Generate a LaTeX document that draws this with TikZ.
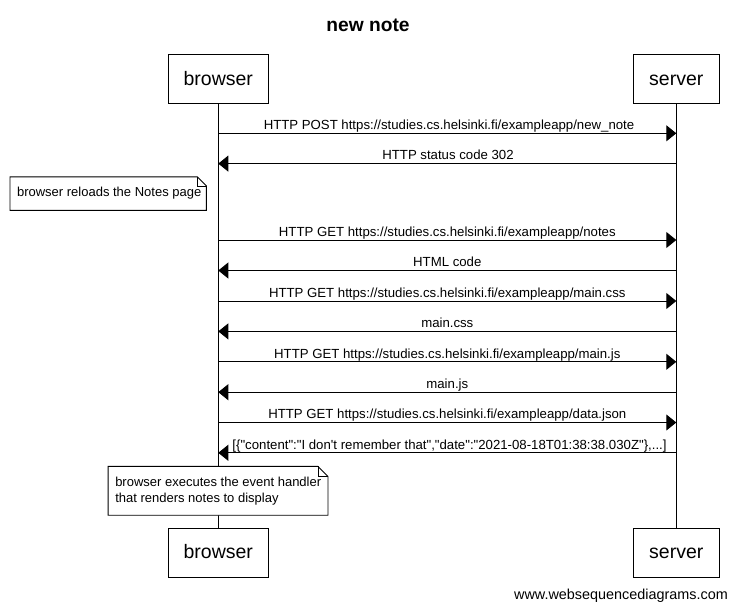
\documentclass[tikz,border=0pt]{standalone}
\usepackage{fontspec}
\setmainfont{Liberation Sans}[Ligatures=TeXOff]
\usetikzlibrary{arrows.meta}
\begin{document}
\begin{tikzpicture}[x=1pt,y=-1pt,
  actor/.style={draw,line width=0.9pt,minimum height=49pt,inner sep=0pt,text height=15.4pt,text depth=3pt,font=\fontsize{19.5}{22}\selectfont},
  life/.style={line width=0.9pt},
  msg/.style={line width=0.9pt,-{Triangle[length=10pt,width=16pt]}},
  lbl/.style={anchor=base,inner sep=0pt,font=\fontsize{13.2}{15}\selectfont},
  notebox/.style={inner sep=0pt,font=\fontsize{13}{16}\selectfont},
  noteline/.style={draw,line width=0.9pt,fill=white}]
\useasboundingbox (0,0) rectangle (734,611);

\node[anchor=base,font=\fontsize{19.2}{22}\bfseries\selectfont] (title) at (368,31) {new note};

\node[actor,minimum width=100pt] (bt) at (218.3,78.8) {browser};
\node[actor,minimum width=86pt] (st) at (676.3,78.8) {server};
\node[actor,minimum width=100pt] (bb) at (218.3,552.5) {browser};
\node[actor,minimum width=86pt] (sb) at (676.3,552.5) {server};

\draw[life] (bt.south) -- (bb.north);
\draw[life] (st.south) -- (sb.north);

% message end points on the lifelines
\foreach \n/\y in {1/133.3,2/163.6,3/240,4/270.5,5/301,6/331.4,7/361.8,8/392.2,9/422.5,10/452.8}{
  \coordinate (b\n) at (218.3,\y);
  \coordinate (s\n) at (676.3,\y);
}

\draw[msg] (b1) -- (s1);
\node[lbl] (l1) at (449,129.5) {HTTP POST https://studies.cs.helsinki.fi/exampleapp/new\_note};
\draw[msg] (s2) -- (b2);
\node[lbl] (l2) at (448,159.8) {HTTP status code 302};
\draw[msg] (b3) -- (s3);
\node[lbl] (l3) at (447.3,236.2) {HTTP GET https://studies.cs.helsinki.fi/exampleapp/notes};
\draw[msg] (s4) -- (b4);
\node[lbl] (l4) at (447.3,266.7) {HTML code};
\draw[msg] (b5) -- (s5);
\node[lbl] (l5) at (447.3,297.2) {HTTP GET https://studies.cs.helsinki.fi/exampleapp/main.css};
\draw[msg] (s6) -- (b6);
\node[lbl] (l6) at (447.3,327.6) {main.css};
\draw[msg] (b7) -- (s7);
\node[lbl] (l7) at (447.3,358) {HTTP GET https://studies.cs.helsinki.fi/exampleapp/main.js};
\draw[msg] (s8) -- (b8);
\node[lbl] (l8) at (447.3,388.4) {main.js};
\draw[msg] (b9) -- (s9);
\node[lbl] (l9) at (447.3,418.7) {HTTP GET https://studies.cs.helsinki.fi/exampleapp/data.json};
\draw[msg] (s10) -- (b10);
\node[lbl] (l10) at (449.5,449) {[\{"content":"I don't remember that","date":"2021-08-18T01:38:38.030Z"\},...]};

% note 1
\node[notebox,minimum width=196pt,minimum height=33pt] (n1) at (108.2,193.6) {};
\draw[noteline] (n1.north west) -- ([xshift=-9pt]n1.north east) -- ([yshift=-9pt]n1.north east) -- (n1.south east) -- (n1.south west) -- cycle;
\draw[line width=0.6pt] ([xshift=-9pt]n1.north east) -- ([xshift=-9pt,yshift=-9pt]n1.north east) -- ([yshift=-9pt]n1.north east);
\node[notebox] (n1t) at ([xshift=1pt]n1.center) {browser reloads the Notes page};

% note 2
\node[notebox,minimum width=219.5pt,minimum height=48.5pt] (n2) at (218,490.8) {};
\draw[noteline] (n2.north west) -- ([xshift=-10pt]n2.north east) -- ([yshift=-10pt]n2.north east) -- (n2.south east) -- (n2.south west) -- cycle;
\draw[line width=0.6pt] ([xshift=-10pt]n2.north east) -- ([xshift=-10pt,yshift=-10pt]n2.north east) -- ([yshift=-10pt]n2.north east);
\node[notebox,anchor=west,align=left] (n2t) at ([xshift=7pt,yshift=-0.8pt]n2.west) {browser executes the event handler\\that renders notes to display};

\node[anchor=base east,inner sep=0pt,font=\fontsize{14.4}{16}\selectfont] (wm) at (728,599) {www.websequencediagrams.com};
\end{tikzpicture}
\end{document}
